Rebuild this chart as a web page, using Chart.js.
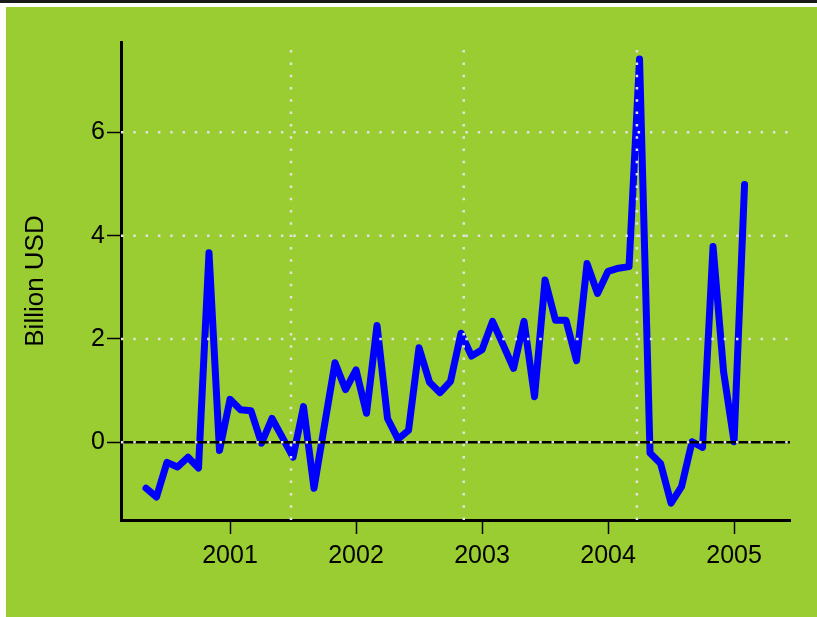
<!DOCTYPE html>
<html>
<head>
<meta charset="utf-8">
<title>Billion USD</title>
<script src="https://cdn.jsdelivr.net/npm/chart.js@4.4.1/dist/chart.umd.min.js"></script>
<style>
  html, body { margin: 0; padding: 0; background: #ffffff; }
  #topLine { position: absolute; left: 0; top: 0; width: 817px; height: 3px; background: #1a1a1a; }
  #panel { position: absolute; left: 6px; top: 7px; width: 811px; height: 610px; background: #9acd32; }
  #wrap { position: absolute; left: 0; top: 0; width: 817px; height: 617px; }
</style>
</head>
<body>
<div id="topLine"></div>
<div id="panel"></div>
<div id="wrap"><canvas id="flowChart" width="817" height="617"></canvas></div>
<script>
// monthly values, May 2000 .. Feb 2005
var months = [
  '2000-05', '2000-06', '2000-07', '2000-08', '2000-09', '2000-10', '2000-11', '2000-12',
  '2001-01', '2001-02', '2001-03', '2001-04', '2001-05', '2001-06', '2001-07', '2001-08', '2001-09', '2001-10', '2001-11', '2001-12',
  '2002-01', '2002-02', '2002-03', '2002-04', '2002-05', '2002-06', '2002-07', '2002-08', '2002-09', '2002-10', '2002-11', '2002-12',
  '2003-01', '2003-02', '2003-03', '2003-04', '2003-05', '2003-06', '2003-07', '2003-08', '2003-09', '2003-10', '2003-11', '2003-12',
  '2004-01', '2004-02', '2004-03', '2004-04', '2004-05', '2004-06', '2004-07', '2004-08', '2004-09', '2004-10', '2004-11', '2004-12',
  '2005-01', '2005-02'
];
var values = [
  -0.89, -1.06, -0.39, -0.48, -0.29, -0.50, 3.67, -0.16,
  0.83, 0.63, 0.61, -0.02, 0.46, 0.09, -0.29, 0.69, -0.89, 0.33, 1.54, 1.02,
  1.40, 0.56, 2.26, 0.46, 0.06, 0.23, 1.83, 1.16, 0.96, 1.18, 2.11, 1.67,
  1.79, 2.34, 1.89, 1.43, 2.34, 0.88, 3.14, 2.36, 2.36, 1.58, 3.46, 2.88,
  3.31, 3.37, 3.40, 7.42, -0.21, -0.41, -1.18, -0.86, 0.01, -0.10, 3.79, 1.37,
  0.01, 4.99
];
var yearTicks = [2001, 2002, 2003, 2004, 2005];
var valueTicks = [0, 2, 4, 6];
// dates of the vertical dotted markers (decimal years)
var eventYears = [2001.484, 2002.855, 2004.229];

var xMin = 2000.135, xMax = 2005.444;
var yMin = -1.506, yMax = 7.75;

function toYear(m) {
  var parts = m.split('-');
  return parseInt(parts[0], 10) + (parseInt(parts[1], 10) - 1) / 12;
}

var seriesData = months.map(function (m, i) { return { x: toYear(m), y: values[i] }; });

var gridColor = '#e2e2e2';
var datasets = [];

// main series (drawn first, everything else on top)
datasets.push({
  data: seriesData,
  borderColor: '#0000ff',
  borderWidth: 7,
  borderCapStyle: 'round',
  borderJoinStyle: 'round',
  pointRadius: 0,
  tension: 0,
  order: 3
});

// zero line
datasets.push({
  data: [{ x: xMin, y: 0 }, { x: xMax, y: 0 }],
  borderColor: '#000000',
  borderWidth: 2.5,
  pointRadius: 0,
  order: 2
});

// dotted horizontal grid
valueTicks.forEach(function (v) {
  datasets.push({
    data: [{ x: xMin, y: v }, { x: xMax, y: v }],
    borderColor: gridColor,
    borderWidth: 2.5,
    borderDash: [2.5, 9.8],
    pointRadius: 0,
    order: 1
  });
});

// dotted vertical markers
eventYears.forEach(function (e) {
  datasets.push({
    data: [{ x: e, y: yMin }, { x: e, y: yMax }],
    borderColor: gridColor,
    borderWidth: 2.5,
    borderDash: [2.5, 9.8],
    pointRadius: 0,
    order: 1
  });
});

var tickFont = { family: "'Liberation Sans', Arial, sans-serif", size: 25 };

var chart = new Chart(document.getElementById('flowChart'), {
  type: 'line',
  data: { datasets: datasets },
  options: {
    responsive: false,
    animation: false,
    layout: { padding: { left: 0, top: 42, right: 27, bottom: 0 } },
    plugins: { legend: { display: false }, tooltip: { enabled: false } },
    scales: {
      x: {
        type: 'linear',
        min: xMin,
        max: xMax,
        afterBuildTicks: function (scale) {
          scale.ticks = yearTicks.map(function (v) { return { value: v }; });
        },
        afterFit: function (scale) { scale.height = 97; },
        ticks: {
          color: '#000000',
          font: tickFont,
          padding: 7,
          maxRotation: 0,
          autoSkip: false,
          callback: function (v) { return String(v); }
        },
        grid: {
          display: true,
          drawOnChartArea: false,
          drawTicks: true,
          tickLength: 14,
          tickColor: '#000000',
          tickWidth: 1.5
        },
        border: { display: true, color: '#000000', width: 3 }
      },
      y: {
        type: 'linear',
        min: yMin,
        max: yMax,
        afterBuildTicks: function (scale) {
          scale.ticks = valueTicks.map(function (v) { return { value: v }; });
        },
        afterFit: function (scale) { scale.width = 121; },
        ticks: {
          color: '#000000',
          font: tickFont,
          padding: 2,
          callback: function (v) { return String(v); }
        },
        grid: {
          display: true,
          drawOnChartArea: false,
          drawTicks: true,
          tickLength: 14,
          tickColor: '#000000',
          tickWidth: 1.5
        },
        border: { display: true, color: '#000000', width: 3 },
        title: {
          display: true,
          text: 'Billion USD',
          color: '#000000',
          font: { family: "'Liberation Sans', Arial, sans-serif", size: 26 },
          padding: { top: 20, bottom: 0 }
        }
      }
    }
  }
});
</script>
</body>
</html>
